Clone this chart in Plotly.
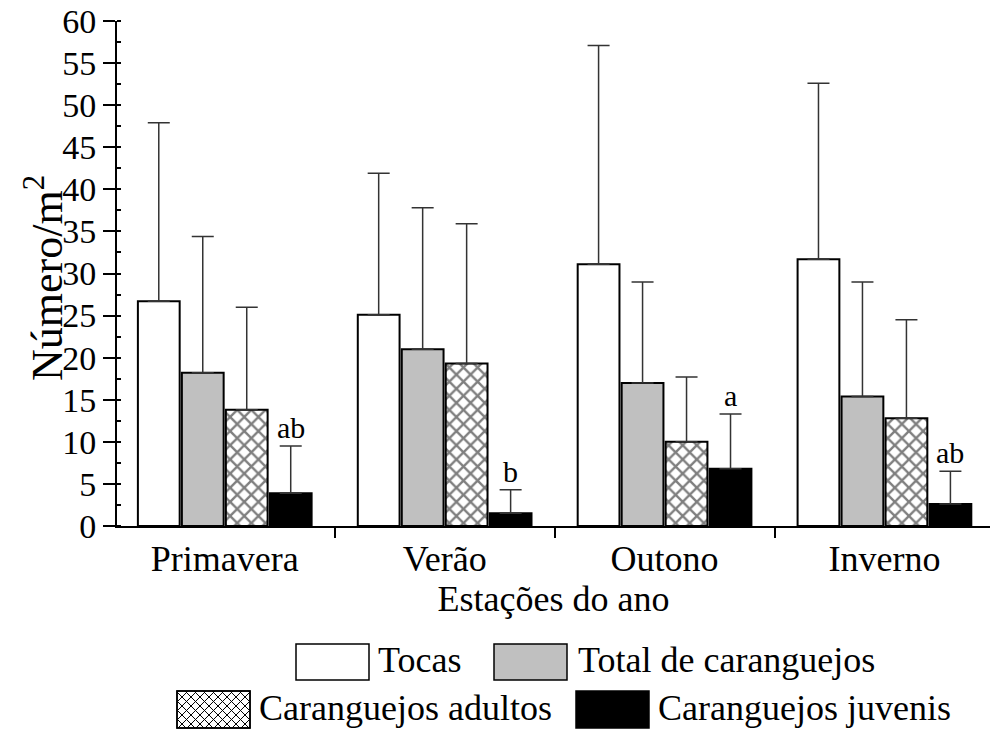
import plotly.graph_objects as go

# ---------------- data ----------------
seasons = ["Primavera", "Verão", "Outono", "Inverno"]
series_names = ["Tocas", "Total de caranguejos", "Caranguejos adultos", "Caranguejos juvenis"]
tocas = [26.7, 25.1, 31.1, 31.7]
tocas_sd = [21.2, 16.8, 26.0, 20.9]
total = [18.2, 21.0, 17.0, 15.4]
total_sd = [16.2, 16.8, 12.0, 13.6]
adultos = [13.8, 19.3, 10.0, 12.8]
adultos_sd = [12.2, 16.6, 7.7, 11.7]
juvenis = [3.9, 1.5, 6.8, 2.6]
juvenis_sd = [5.6, 2.8, 6.5, 3.9]
juvenis_letters = ["ab", "b", "a", "ab"]
y_ticks = [0, 5, 10, 15, 20, 25, 30, 35, 40, 45, 50, 55, 60]

FONT = "Liberation Serif, Times New Roman, serif"
W, H = 990, 733
ML, MR, MT, MB = 117, 0, 21, 207
PW, PH = W - ML - MR, H - MT - MB


def px(x):
    return (x - ML) / PW


def py(y):
    return (H - MB - y) / PH


fig = go.Figure()

styles = [
    dict(color="white"),
    dict(color="#c0c0c0"),
    dict(color="white", pattern=dict(shape="x", fgcolor="black", bgcolor="white",
                                     size=10, solidity=0.42, fillmode="overlay")),
    dict(color="black"),
]
vals = [tocas, total, adultos, juvenis]
sds = [tocas_sd, total_sd, adultos_sd, juvenis_sd]

for name, v, sd, st in zip(series_names, vals, sds, styles):
    fig.add_trace(go.Bar(
        x=seasons, y=v, name=name,
        marker=dict(line=dict(color="black", width=2), **st),
        error_y=dict(type="data", array=sd, arrayminus=[0] * len(sd), symmetric=False,
                     color="#333333", thickness=1.5, width=11),
        showlegend=False,
    ))

# significance letters above juvenile bars
for i, (v, sd, lab) in enumerate(zip(juvenis, juvenis_sd, juvenis_letters)):
    fig.add_annotation(x=i + 0.3, y=v + sd, xref="x", yref="y", text=lab,
                       showarrow=False, yanchor="bottom", yshift=0,
                       font=dict(family=FONT, size=30, color="black"))

# y title
fig.add_annotation(x=px(44), y=py(278), xref="paper", yref="paper",
                   xanchor="center", yanchor="middle",
                   text="Número/m<sup>2</sup>", textangle=-90, showarrow=False,
                   font=dict(family=FONT, size=44, color="black"))

# ---------------- custom legend ----------------
def box(x0, x1, y0, y1, fill):
    fig.add_shape(type="rect", xref="paper", yref="paper",
                  x0=px(x0), x1=px(x1), y0=py(y1), y1=py(y0),
                  fillcolor=fill, line=dict(color="black", width=1.5), layer="above")


def hatch(x0, x1, y0, y1, step=9):
    segs = []
    w, h = x1 - x0, y1 - y0
    k = -h
    while k < w:
        t0 = max(0, -k)
        t1 = min(h, w - k)
        if t1 > t0:
            segs.append(((x0 + k + t0, y0 + t0), (x0 + k + t1, y0 + t1)))
            segs.append(((x1 - k - t0, y0 + t0), (x1 - k - t1, y0 + t1)))
        k += step
    path = " ".join(f"M{px(a[0]):.5f},{py(a[1]):.5f} L{px(b[0]):.5f},{py(b[1]):.5f}" for a, b in segs)
    fig.add_shape(type="path", path=path, xref="paper", yref="paper",
                  line=dict(color="black", width=1), layer="above")


def label(x, y, text):
    fig.add_annotation(x=px(x), y=py(y), xref="paper", yref="paper", text=text,
                       showarrow=False, xanchor="left", yanchor="middle",
                       font=dict(family=FONT, size=36, color="black"))


r1 = (644, 680)
r2 = (691, 728)
box(296, 369, *r1, "white")
label(376, 660, series_names[0])
box(494, 567, *r1, "#c0c0c0")
label(576, 660, series_names[1])
box(177, 250, *r2, "white")
hatch(177, 250, *r2)
box(177, 250, *r2, "rgba(0,0,0,0)")
label(257, 708, series_names[2])
box(576, 649, *r2, "black")
label(656, 708, series_names[3])

fig.update_layout(
    width=W, height=H,
    margin=dict(l=ML, r=MR, t=MT, b=MB, pad=0),
    paper_bgcolor="white", plot_bgcolor="white",
    barmode="group", bargap=0.2, bargroupgap=0.05,
    font=dict(family=FONT, color="black"),
    showlegend=False,
    xaxis=dict(
        type="category", range=[-0.49, 3.48],
        showline=True, linecolor="black", linewidth=2,
        ticks="outside", ticklen=10, tickwidth=2, tickcolor="black",
        tickson="boundaries", showgrid=False, zeroline=False,
        tickfont=dict(family=FONT, size=36, color="black"),
        title=dict(text="Estações do ano", font=dict(family=FONT, size=36, color="black"), standoff=4),
    ),
    yaxis=dict(
        range=[0, 60], tickvals=y_ticks,
        showline=True, linecolor="black", linewidth=2,
        ticks="outside", ticklen=12, tickwidth=2, tickcolor="black",
        minor=dict(ticks="inside", dtick=2.5, ticklen=4, tickwidth=2, tickcolor="black"),
        showgrid=False, zeroline=False,
        tickfont=dict(family=FONT, size=34, color="black"),
    ),
)

fig.write_html("out.html")
